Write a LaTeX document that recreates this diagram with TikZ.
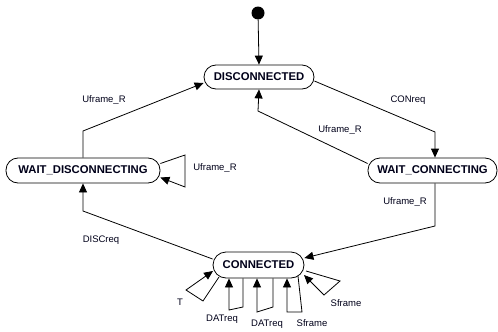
\documentclass[tikz,border=0pt]{standalone}
\usepackage{fontspec}
\setmainfont{Liberation Sans}
\usetikzlibrary{arrows.meta}
\begin{document}
\begin{tikzpicture}[x=1pt,y=-1pt,
  arr/.style={draw=black,line width=0.8pt,-{Triangle[length=9pt,width=8pt]}},
  state/.style={draw=black,line width=0.8pt,rounded corners=12pt,inner sep=0pt,
    font=\fontsize{11.3}{12}\selectfont\bfseries,text=black!90!blue},
  lbl/.style={font=\fontsize{9.5}{10}\selectfont,text=black!90!blue,inner sep=0pt}]
\useasboundingbox (0,0) rectangle (498,332);
% nodes
\node[circle,fill=black,minimum size=13pt,inner sep=0pt] (start) at (258,13) {};
\node[state,minimum width=110pt,minimum height=24pt] (disc) at (259,77) {DISCONNECTED};
\node[state,minimum width=129pt,minimum height=25pt] (wc) at (432.5,170.5) {WAIT\_CONNECTING};
\node[state,minimum width=154pt,minimum height=25pt] (wd) at (83,170.5) {WAIT\_DISCONNECTING};
\node[state,minimum width=91pt,minimum height=26pt,rounded corners=13pt] (conn) at (258.5,265) {CONNECTED};
% bend coordinates
\coordinate (c1) at (435,132);
\coordinate (c2) at (258,111);
\coordinate (c3) at (83,131);
\coordinate (c5) at (83,211);
\coordinate (c6) at (435,226);
\coordinate (l1a) at (185,155);
\coordinate (l1b) at (185,187);
\coordinate (t1) at (219,277);
\coordinate (t2) at (203,301);
\coordinate (t3) at (186,290);
\coordinate (t4) at (213,271);
\coordinate (d1a) at (243,307);
\coordinate (d1b) at (229,310);
\coordinate (d2a) at (273,307);
\coordinate (d2b) at (257,312);
\coordinate (s1s) at (298,276);
\coordinate (s1a) at (302,312);
\coordinate (s1b) at (287,312);
\coordinate (s2s) at (306,271);
\coordinate (s2a) at (340,281);
\coordinate (s2b) at (324,295);
\coordinate (s2e) at (304,275);
% connectors
\draw[arr] (start) -- (disc.north);
\draw[arr] ([yshift=-4pt]disc.east) -- (c1) -- (c1 |- wc.north);
\draw[arr] ([yshift=7pt]wc.west) -- (c2) -- (disc.south);
\draw[arr] (wd.north) -- (c3) -- ([yshift=-6pt]disc.west);
\draw[arr] ([yshift=7pt]wd.east) -- (l1a) -- (l1b) -- ([yshift=-7pt]wd.east);
\draw[arr] ([yshift=6pt]conn.west) -- (c5) -- (wd.south);
\draw[arr] (c6 |- wc.south) -- (c6) -- ([yshift=7pt]conn.east);
\draw[arr] (t1) -- (t2) -- (t3) -- (t4);
\draw[arr] (d1a |- conn.south) -- (d1a) -- (d1b) -- (d1b |- conn.south);
\draw[arr] (d2a |- conn.south) -- (d2a) -- (d2b) -- (d2b |- conn.south);
\draw[arr] (s1s) -- (s1a) -- (s1b) -- (s1b |- conn.south);
\draw[arr] (s2s) -- (s2a) -- (s2b) -- (s2e);
% labels
\node[lbl] (lcon) at (408,100) {CONreq};
\node[lbl] (lu1) at (340,130) {Uframe\_R};
\node[lbl] (lu2) at (104,100) {Uframe\_R};
\node[lbl] (lu3) at (215,168) {Uframe\_R};
\node[lbl] (ldis) at (101,240) {DISCreq};
\node[lbl] (lu4) at (405,202) {Uframe\_R};
\node[lbl] (lt) at (180,302) {T};
\node[lbl] (ld1) at (222,319) {DATreq};
\node[lbl] (ld2) at (267,324) {DATreq};
\node[lbl] (ls1) at (312,323) {Sframe};
\node[lbl] (ls2) at (346,303) {Sframe};
\end{tikzpicture}
\end{document}
